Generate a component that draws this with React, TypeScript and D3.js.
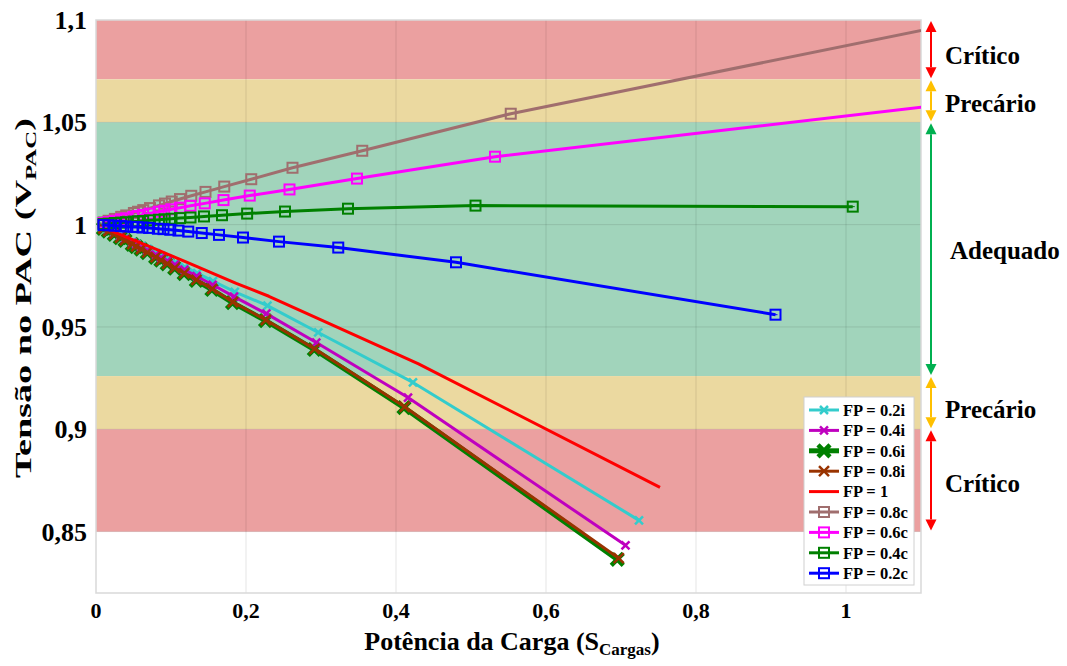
import React from 'react';
import * as d3 from 'd3';

// Pontos [S, V] (n = 1..12, 14, 16, 18, 20, 25, 30, 40, 60, 100)
const fp02i = [[0.724,0.8555],[0.4226,0.9229],[0.2963,0.9473],[0.2286,0.9604],[0.185,0.9672],[0.156,0.9724],[0.135,0.9763],[0.1185,0.9792],[0.1059,0.9816],[0.0956,0.9834],[0.0872,0.9849],[0.0801,0.9861],[0.069,0.9881],[0.0605,0.9895],[0.0539,0.9907],[0.0486,0.9916],[0.039,0.9933],[0.0326,0.9944],[0.0245,0.9958],[0.0164,0.9972],[0.0099,0.9983]];
const fp04i = [[0.706,0.8433],[0.416,0.9155],[0.2937,0.9424],[0.227,0.9565],[0.184,0.9648],[0.1555,0.9706],[0.1342,0.9748],[0.118,0.978],[0.1053,0.9804],[0.0951,0.9823],[0.0867,0.9839],[0.0797,0.9853],[0.0686,0.9874],[0.0602,0.9889],[0.0536,0.9902],[0.0484,0.9911],[0.0388,0.9929],[0.0324,0.9941],[0.0244,0.9956],[0.0163,0.997],[0.0098,0.9982]];
const fp06i = [[0.695,0.8364],[0.4106,0.9106],[0.291,0.939],[0.226,0.9531],[0.182,0.9619],[0.1545,0.9683],[0.1337,0.9727],[0.1175,0.9761],[0.1049,0.9787],[0.0949,0.9808],[0.0865,0.9826],[0.0795,0.984],[0.0684,0.9863],[0.0601,0.988],[0.0535,0.9893],[0.0483,0.9904],[0.0387,0.9923],[0.0323,0.9936],[0.0243,0.9952],[0.0163,0.9968],[0.0098,0.9981]];
const fp08i = [[0.697,0.837],[0.4115,0.911],[0.2915,0.9393],[0.2265,0.9534],[0.1825,0.9622],[0.155,0.9686],[0.134,0.973],[0.1178,0.9763],[0.1051,0.9789],[0.095,0.981],[0.0866,0.9827],[0.0796,0.9841],[0.0685,0.9864],[0.0601,0.9881],[0.0536,0.9894],[0.0483,0.9905],[0.0387,0.9924],[0.0323,0.9937],[0.0243,0.9953],[0.0163,0.9968],[0.0098,0.9981]];
const fp1 = [[0.752,0.8716],[0.43,0.932],[0.3,0.9535],[0.2305,0.965],[0.187,0.9713],[0.1573,0.976],[0.1356,0.9794],[0.1192,0.9819],[0.1064,0.9839],[0.0961,0.9855],[0.0876,0.9868],[0.0805,0.9879],[0.0692,0.9896],[0.0607,0.9909],[0.054,0.9919],[0.0487,0.9927],[0.039,0.9941],[0.0326,0.9951],[0.0245,0.9964],[0.0164,0.9976],[0.0099,0.9985]];
const fp08c = [[1.21,1.103],[0.553,1.0542],[0.355,1.0361],[0.262,1.0278],[0.207,1.0222],[0.171,1.0186],[0.146,1.016],[0.127,1.0141],[0.112,1.0125],[0.101,1.0113],[0.092,1.0103],[0.084,1.0094],[0.072,1.0081],[0.063,1.0071],[0.056,1.0063],[0.0505,1.0057],[0.0403,1.0045],[0.0336,1.0038],[0.0252,1.0028],[0.0168,1.0019],[0.0101,1.0011]];
const fp06c = [[1.115,1.058],[0.532,1.0332],[0.348,1.0225],[0.258,1.0172],[0.205,1.0142],[0.17,1.012],[0.145,1.0104],[0.126,1.0092],[0.112,1.0083],[0.1005,1.0075],[0.091,1.0068],[0.0835,1.0063],[0.0716,1.0054],[0.0626,1.0048],[0.0556,1.0042],[0.05,1.0038],[0.04,1.0031],[0.0334,1.0026],[0.025,1.0019],[0.0167,1.0013],[0.01,1.0008]];
const fp04c = [[1.009,1.0088],[0.506,1.0093],[0.336,1.0078],[0.252,1.0064],[0.2015,1.0054],[0.168,1.0046],[0.144,1.004],[0.126,1.0035],[0.112,1.0032],[0.1007,1.0029],[0.0915,1.0026],[0.0839,1.0024],[0.0719,1.0021],[0.0629,1.0018],[0.0559,1.0016],[0.0503,1.0015],[0.0402,1.0012],[0.0335,1.001],[0.0251,1.0008],[0.0168,1.0005],[0.0101,1.0003]];
const fp02c = [[0.906,0.956],[0.48,0.9816],[0.323,0.9888],[0.244,0.9917],[0.196,0.9937],[0.164,0.995],[0.141,0.9959],[0.123,0.9966],[0.11,0.9971],[0.099,0.9975],[0.09,0.9978],[0.0825,0.998],[0.0708,0.9984],[0.062,0.9986],[0.0551,0.9988],[0.0496,0.9989],[0.0397,0.9991],[0.0331,0.9993],[0.0248,0.9995],[0.0166,0.9997],[0.01,0.9998]];

const xTicks = [0, 0.2, 0.4, 0.6, 0.8, 1];
const yTicks = [0.85, 0.9, 0.95, 1, 1.05, 1.1];

// faixas de tensão
const bands = [
  { from: 1.071, to: 1.1, fill: '#eba0a0', arrow: '#ff0000' },
  { from: 1.05, to: 1.071, fill: '#ebd9a0', arrow: '#ffc000' },
  { from: 0.926, to: 1.05, fill: '#a1d4bb', arrow: '#00b050' },
  { from: 0.9, to: 0.926, fill: '#ebd9a0', arrow: '#ffc000' },
  { from: 0.85, to: 0.9, fill: '#eba0a0', arrow: '#ff0000' },
];
const bandLabels = ['Crítico', 'Precário', 'Adequado', 'Precário', 'Crítico'];

type Marker = 'x' | 'X' | 'sq' | 'none';
const series: { name: string; data: number[][]; color: string; width: number; marker: Marker; ms: number }[] = [
  { name: 'FP = 0.6i', data: fp06i, color: '#008000', width: 5, marker: 'X', ms: 6 },
  { name: 'FP = 0.2i', data: fp02i, color: '#33cccc', width: 3, marker: 'x', ms: 4 },
  { name: 'FP = 0.4i', data: fp04i, color: '#bf00bf', width: 3, marker: 'x', ms: 4 },
  { name: 'FP = 0.8i', data: fp08i, color: '#993300', width: 3, marker: 'x', ms: 5 },
  { name: 'FP = 1', data: fp1, color: '#ff0000', width: 3, marker: 'none', ms: 0 },
  { name: 'FP = 0.8c', data: fp08c, color: '#a06e6e', width: 3, marker: 'sq', ms: 5 },
  { name: 'FP = 0.6c', data: fp06c, color: '#ff00ff', width: 3, marker: 'sq', ms: 5 },
  { name: 'FP = 0.4c', data: fp04c, color: '#008000', width: 3, marker: 'sq', ms: 5 },
  { name: 'FP = 0.2c', data: fp02c, color: '#0000ff', width: 3, marker: 'sq', ms: 5 },
];
const legendOrder = ['FP = 0.2i', 'FP = 0.4i', 'FP = 0.6i', 'FP = 0.8i', 'FP = 1', 'FP = 0.8c', 'FP = 0.6c', 'FP = 0.4c', 'FP = 0.2c'];

const W = 1067, H = 666;
const L = 96, R = 921, T = 20, B = 593;
const txt: React.CSSProperties = { fontFamily: '"Liberation Serif", "Times New Roman", Times, serif', fontWeight: 'bold' };

function MarkerShape({ type, x, y, s, color }: { type: Marker; x: number; y: number; s: number; color: string }) {
  if (type === 'x' || type === 'X') {
    return <path d={`M${x - s},${y - s}L${x + s},${y + s}M${x - s},${y + s}L${x + s},${y - s}`} stroke={color} strokeWidth={type === 'X' ? 4.5 : 2.5} fill="none" />;
  }
  if (type === 'sq') {
    return (
      <g>
        <rect x={x - s} y={y - s} width={2 * s} height={2 * s} stroke={color} strokeWidth={2} fill="none" />
        <line x1={x - 2} x2={x + 2} y1={y} y2={y} stroke={color} strokeWidth={1} />
      </g>
    );
  }
  return null;
}

export default function App() {
  const x = d3.scaleLinear().domain([0, 1.1]).range([L, R]);
  const y = d3.scaleLinear().domain([0.82, 1.1]).range([B, T]);
  const line = d3.line<number[]>().x(d => x(d[0])).y(d => y(d[1]));

  const ax = 931;
  const head = 11;
  const labelPos = [55, 103, 250, 409, 483];

  return (
    <svg width={W} height={H} style={{ position: 'absolute', left: 0, top: 0, background: '#fff' }}>
      <defs>
        <clipPath id="plot"><rect x={L} y={T} width={R - L} height={B - T} /></clipPath>
      </defs>

      {/* faixas */}
      {bands.map((b, i) => (
        <rect key={i} x={L} y={y(b.to)} width={R - L} height={y(b.from) - y(b.to)} fill={b.fill} />
      ))}

      {/* grade */}
      {xTicks.slice(1).map(t => (
        <line key={'gx' + t} x1={x(t)} x2={x(t)} y1={T} y2={B} stroke="#000" strokeOpacity={0.1} />
      ))}
      {yTicks.slice(0, -1).map(t => (
        <line key={'gy' + t} x1={L} x2={R} y1={y(t)} y2={y(t)} stroke="#000" strokeOpacity={0.1} />
      ))}
      <rect x={L} y={T} width={R - L} height={B - T} fill="none" stroke="#d9d9d9" strokeWidth={1.5} />

      {/* séries */}
      <g clipPath="url(#plot)">
        {series.map(s => (
          <g key={s.name}>
            <path d={line(s.data) || ''} fill="none" stroke={s.color} strokeWidth={s.width} strokeLinejoin="round" />
            {s.data.map((d, i) => (
              <MarkerShape key={i} type={s.marker} x={x(d[0])} y={y(d[1])} s={s.ms} color={s.color} />
            ))}
          </g>
        ))}
      </g>

      {/* eixos */}
      {yTicks.map(t => (
        <text key={'ty' + t} x={87} y={y(t)} dy="0.35em" textAnchor="end" style={txt} fontSize={26}>
          {String(t).replace('.', ',')}
        </text>
      ))}
      {xTicks.map(t => (
        <text key={'tx' + t} x={x(t)} y={618} textAnchor="middle" style={txt} fontSize={22}>
          {String(t).replace('.', ',')}
        </text>
      ))}
      <text x={512} y={650} textAnchor="middle" style={txt} fontSize={26}>
        Potência da Carga (S<tspan fontSize={17} dy={5}>Cargas</tspan><tspan dy={-5}>)</tspan>
      </text>
      <text transform="translate(31,478) rotate(-90)" style={txt} fontSize={23} textLength={360} lengthAdjust="spacingAndGlyphs">
        Tensão no PAC (V<tspan fontSize={15} dy={5}>PAC</tspan><tspan dy={-5}>)</tspan>
      </text>

      {/* legenda */}
      <rect x={804} y={397} width={110} height={188} fill="#fff" stroke="#d0d0d0" />
      {legendOrder.map((n, i) => {
        const s = series.find(d => d.name === n)!;
        const ly = 410 + i * 20.4;
        return (
          <g key={n}>
            <line x1={809} x2={839} y1={ly} y2={ly} stroke={s.color} strokeWidth={s.width} />
            <MarkerShape type={s.marker} x={824} y={ly} s={s.ms} color={s.color} />
            <text x={843} y={ly} dy="0.35em" style={txt} fontSize={16.5}>{n}</text>
          </g>
        );
      })}

      {/* setas e rótulos das faixas */}
      {bands.map((b, i) => {
        const y1 = y(b.to) + 1, y2 = y(b.from) - 1;
        return (
          <g key={'a' + i}>
            <line x1={ax} x2={ax} y1={y1 + head} y2={y2 - head} stroke={b.arrow} strokeWidth={2} />
            <path d={`M${ax},${y1}L${ax - 5.5},${y1 + head}L${ax + 5.5},${y1 + head}Z`} fill={b.arrow} />
            <path d={`M${ax},${y2}L${ax - 5.5},${y2 - head}L${ax + 5.5},${y2 - head}Z`} fill={b.arrow} />
          </g>
        );
      })}
      {bandLabels.map((t, i) => (
        <text key={'l' + i} x={i === 2 ? 950 : 945} y={labelPos[i]} dy="0.35em" style={txt} fontSize={25}>{t}</text>
      ))}
    </svg>
  );
}
